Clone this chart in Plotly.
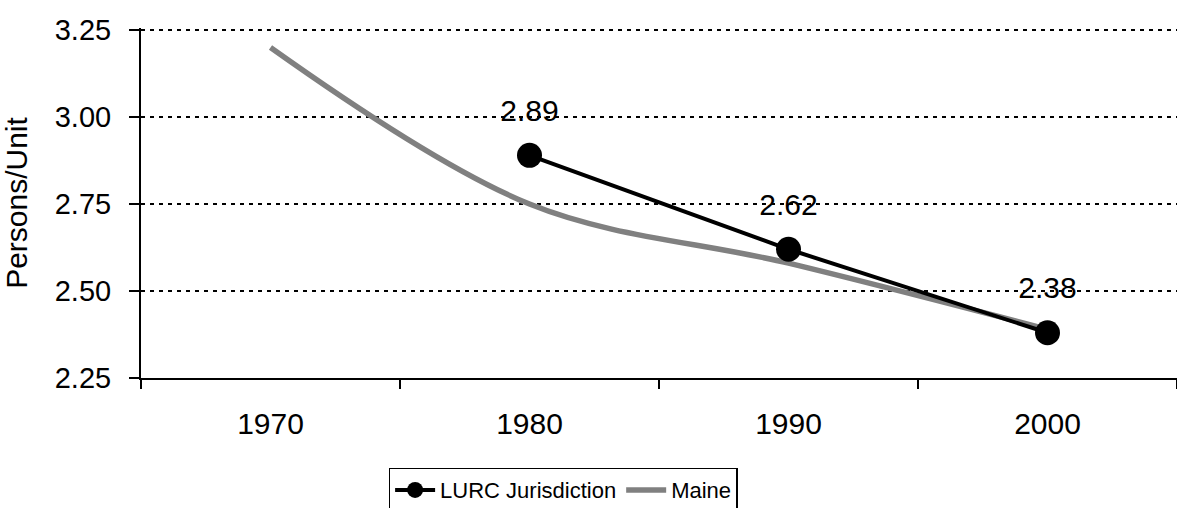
import plotly.graph_objects as go

years = ["1970", "1980", "1990", "2000"]
lurc_years = ["1980", "1990", "2000"]
lurc_values = [2.89, 2.62, 2.38]
maine_values = [3.20, 2.75, 2.58, 2.39]
y_ticks = [2.25, 2.50, 2.75, 3.00, 3.25]

FONT = "Liberation Sans, Arial, sans-serif"

fig = go.Figure()
fig.add_trace(go.Scatter(
    x=years, y=maine_values, name="Maine", mode="lines",
    line=dict(color="#808080", width=5.5, shape="spline", smoothing=1),
    hoverinfo="skip",
))
fig.add_trace(go.Scatter(
    x=lurc_years, y=lurc_values, name="LURC Jurisdiction", mode="lines+markers",
    line=dict(color="black", width=4),
    marker=dict(color="black", size=25),
))
fig.add_trace(go.Scatter(
    x=lurc_years, y=lurc_values, mode="markers+text", showlegend=False,
    text=[f"{v:.2f}" for v in lurc_values], textposition="top center",
    textfont=dict(size=30, color="black", family=FONT),
    marker=dict(size=42, opacity=0, color="white"), hoverinfo="skip",
    cliponaxis=False,
))

fig.update_layout(
    width=1177, height=508,
    margin=dict(l=141, r=0, t=28, b=130, autoexpand=False),
    paper_bgcolor="white", plot_bgcolor="white",
    font=dict(family=FONT, size=28, color="black"),
    showlegend=True,
    legend=dict(orientation="h", x=0.239, xanchor="left", y=-0.256, yanchor="top",
                bordercolor="black", borderwidth=1.5, traceorder="reversed",
                font=dict(size=22, color="black"), itemwidth=40),
)
fig.update_xaxes(
    type="category", categoryorder="array", categoryarray=years,
    range=[-0.5, 3.5], showgrid=False, showline=True, linecolor="black", linewidth=2,
    ticks="outside", tickson="boundaries", ticklen=9, tickwidth=1.5, tickcolor="black",
    ticklabelstandoff=18, tickfont=dict(size=30, color="black"), zeroline=False,
)
fig.update_yaxes(
    range=[2.25, 3.256], tickvals=y_ticks, ticktext=[f"{v:.2f}" for v in y_ticks],
    showgrid=True, gridcolor="black", gridwidth=2, griddash="4px,5px",
    showline=True, linecolor="black", linewidth=2,
    ticks="outside", ticklen=10, tickwidth=1.5, tickcolor="black",
    ticklabelstandoff=12,
    tickfont=dict(size=29, color="black"), zeroline=False,
    title=dict(text="Persons/Unit", font=dict(size=30, color="black"), standoff=22),
)
fig.write_html("out.html", config={"displayModeBar": False},
               post_script="document.body.style.margin='0';document.body.style.overflow='hidden';")
